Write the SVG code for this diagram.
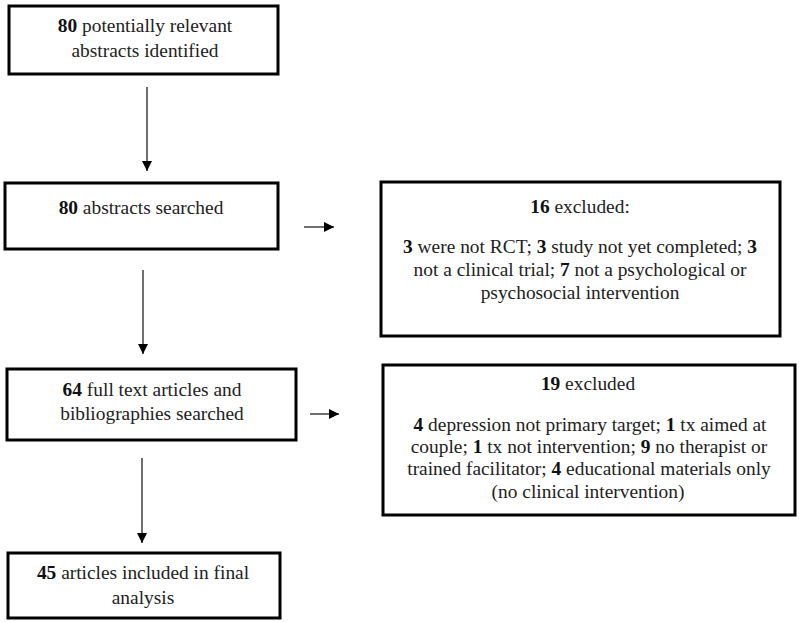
<svg xmlns="http://www.w3.org/2000/svg" width="800" height="622" viewBox="0 0 800 622">
<style>
.box{fill:#fff;stroke:#000;stroke-width:3}
text{font-family:'Liberation Serif','DejaVu Serif',serif;font-size:19.4px;fill:#222;text-anchor:middle}
.b{font-weight:bold;fill:#111}
.ln{stroke:#222;stroke-width:1.3;fill:none}
</style>
<defs>
<marker id="ah" viewBox="0 0 10 10" refX="10" refY="5" markerWidth="10" markerHeight="10" markerUnits="userSpaceOnUse" orient="auto">
<path d="M0,0 L10,5 L0,10 z" fill="#000"/>
</marker>
</defs>
<rect width="800" height="622" fill="#fff"/>
<g id="n1">
<rect class="box" x="9" y="6" width="269" height="68"/>
<text x="145" y="32"><tspan class="b">80</tspan> potentially relevant</text>
<text x="145" y="57">abstracts identified</text>
</g>
<g id="n2">
<rect class="box" x="5" y="183" width="273" height="66"/>
<text x="141" y="214"><tspan class="b">80</tspan> abstracts searched</text>
</g>
<g id="n3">
<rect class="box" x="381" y="182" width="399" height="154"/>
<text x="580" y="213"><tspan class="b">16</tspan> excluded:</text>
<text x="580" y="253"><tspan class="b">3</tspan> were not RCT; <tspan class="b">3</tspan> study not yet completed; <tspan class="b">3</tspan></text>
<text x="580" y="276">not a clinical trial; <tspan class="b">7</tspan> not a psychological or</text>
<text x="580" y="299">psychosocial intervention</text>
</g>
<g id="n4">
<rect class="box" x="7" y="369" width="289" height="71"/>
<text x="152" y="396"><tspan class="b">64</tspan> full text articles and</text>
<text x="152" y="420">bibliographies searched</text>
</g>
<g id="n5">
<rect class="box" x="383" y="365" width="412" height="150"/>
<text x="588" y="390"><tspan class="b">19</tspan> excluded</text>
<text x="590" y="431"><tspan class="b">4</tspan> depression not primary target; <tspan class="b">1</tspan> tx aimed at</text>
<text x="589" y="453">couple; <tspan class="b">1</tspan> tx not intervention; <tspan class="b">9</tspan> no therapist or</text>
<text x="589" y="475">trained facilitator; <tspan class="b">4</tspan> educational materials only</text>
<text x="588" y="498">(no clinical intervention)</text>
</g>
<g id="n6">
<rect class="box" x="8" y="553" width="272" height="65"/>
<text x="143" y="579"><tspan class="b">45</tspan> articles included in final</text>
<text x="143" y="604">analysis</text>
</g>
<g id="connectors">
<line class="ln" x1="147" y1="87" x2="147" y2="171" stroke-width="2" marker-end="url(#ah)"/>
<line class="ln" x1="304" y1="227" x2="334" y2="227" marker-end="url(#ah)"/>
<line class="ln" x1="143" y1="270" x2="143" y2="354" marker-end="url(#ah)"/>
<line class="ln" x1="310" y1="414" x2="339" y2="414" marker-end="url(#ah)"/>
<line class="ln" x1="142" y1="458" x2="142" y2="543" marker-end="url(#ah)"/>
</g>
</svg>
